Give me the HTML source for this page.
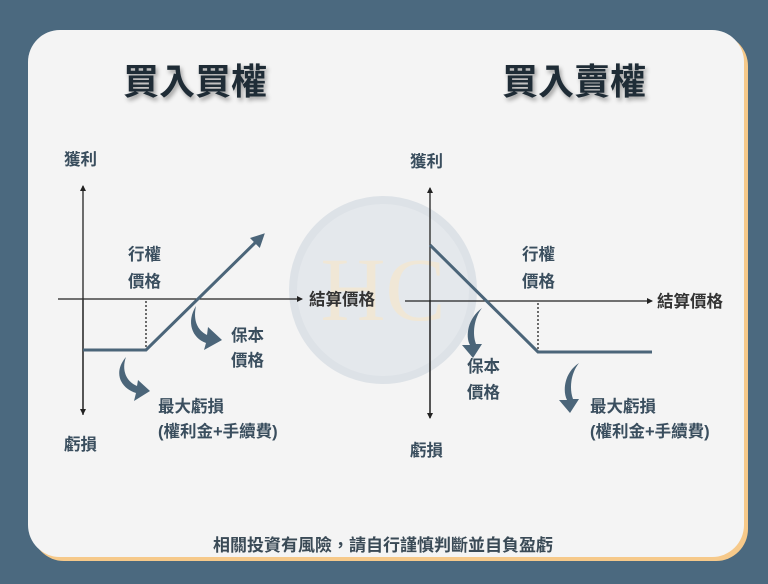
<!DOCTYPE html>
<html><head><meta charset="utf-8"><style>
body{margin:0;width:768px;height:584px;background:#4b697f;overflow:hidden;font-family:"Liberation Sans","Noto Sans CJK TC",sans-serif;}
svg{position:absolute;left:0;top:0}
</style></head><body>
<svg width="768" height="584" viewBox="0 0 768 584" xmlns="http://www.w3.org/2000/svg">
<defs>
<marker id="a" markerWidth="6" markerHeight="6" refX="5" refY="3" orient="auto" markerUnits="userSpaceOnUse"><path d="M0,0 L6,3 L0,6 z" fill="#222"/></marker>
<marker id="b" markerWidth="14" markerHeight="14" refX="10" refY="7" orient="auto" markerUnits="userSpaceOnUse"><path d="M0,0 L14,7 L0,14 z" fill="#4b6579"/></marker>
</defs>
<rect x="32" y="34" width="716" height="527" rx="32" fill="#f6c98a"/>
<rect x="28" y="30" width="716" height="527" rx="32" fill="#f4f4f4"/>
<circle cx="383" cy="290" r="90" fill="#e4e8ec" stroke="#dde2e7" stroke-width="8"/>
<text x="383" y="320" font-size="90" text-anchor="middle" fill="#f0e7d6" font-family="Liberation Serif">HC</text>
<g font-weight="bold" font-size="36" fill="#1f2c36" style="filter:drop-shadow(2px 3px 2px rgba(0,0,0,.35))" text-anchor="middle">
<text x="195" y="94">買入買權</text><text x="574" y="94">買入賣權</text></g>
<g stroke="#222" stroke-width="1.3" fill="none">
<line x1="83" y1="415" x2="83" y2="186" marker-end="url(#a)"/>
<line x1="83" y1="300" x2="83" y2="414" marker-end="url(#a)"/>
<line x1="58" y1="299" x2="302" y2="299" marker-end="url(#a)"/>
<line x1="430" y1="418" x2="430" y2="188" marker-end="url(#a)"/>
<line x1="430" y1="300" x2="430" y2="418" marker-end="url(#a)"/>
<line x1="405" y1="301" x2="652" y2="301" marker-end="url(#a)"/>
<line x1="146" y1="301" x2="146" y2="350" stroke-dasharray="2,2"/>
<line x1="538" y1="303" x2="538" y2="350" stroke-dasharray="2,2"/>
</g>
<g stroke="#4b6579" stroke-width="3" fill="none">
<polyline points="83,350 146,350 262,236" marker-end="url(#b)"/>
<polyline points="430,245 538,352 652,352"/>
</g>
<g fill="#4b6579">
<path d="M196,306 C186,322 192,338 206,343 L204,350 L222,340 L208,327 L207,335 C197,330 193,320 196,306z"/>
<path d="M126,357 C113,372 120,388 136,393 L134,401 L150,391 L138,380 L137,386 C127,382 121,371 126,357z"/>
<path d="M482,308 C468,318 465,336 470,345 L462,345 L473,358 L482,344 L476,344 C472,334 474,318 482,308z"/>
<path d="M579,363 C565,372 562,390 567,400 L559,400 L570,413 L579,399 L573,399 C569,388 571,373 579,363z"/>
</g>
<g font-weight="bold" font-size="16.5" fill="#3a4e5e">
<text x="64" y="165">獲利</text><text x="64" y="450">虧損</text>
<text x="128" y="260">行權</text><text x="128" y="287">價格</text>
<text x="309" y="305" fill="#333">結算價格</text>
<text x="231" y="341">保本</text><text x="231" y="366">價格</text>
<text x="158" y="412">最大虧損</text><text x="158" y="437">(權利金+手續費)</text>
<text x="410" y="167">獲利</text><text x="410" y="456">虧損</text>
<text x="522" y="260">行權</text><text x="522" y="287">價格</text>
<text x="657" y="307" fill="#333">結算價格</text>
<text x="467" y="372">保本</text><text x="467" y="398">價格</text>
<text x="590" y="412">最大虧損</text><text x="590" y="437">(權利金+手續費)</text>
<text x="383" y="551" text-anchor="middle" font-size="17" fill="#3a4a56">相關投資有風險，請自行謹慎判斷並自負盈虧</text>
</g>
</svg>
</body></html>
